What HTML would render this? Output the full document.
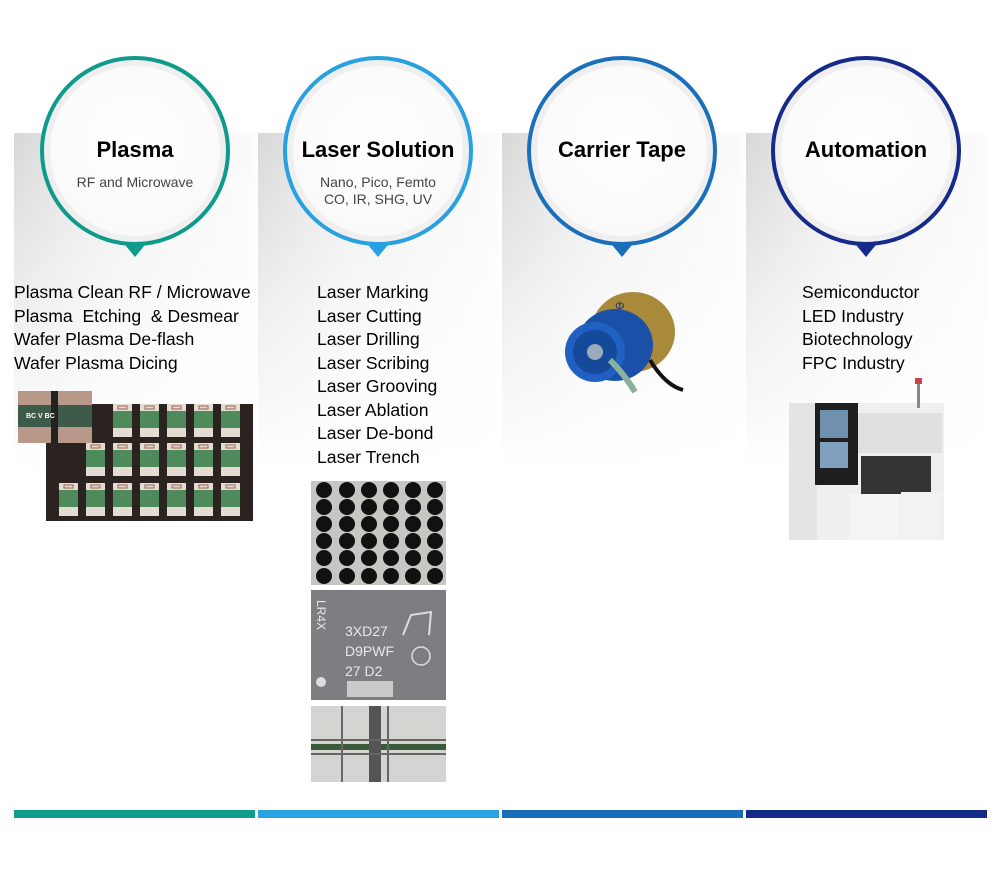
<!DOCTYPE html>
<html><head><meta charset="utf-8"><style>
body{margin:0;background:#fff;width:1000px;height:883px;position:relative;overflow:hidden;font-family:"Liberation Sans",sans-serif;color:#000}
.panel{position:absolute;top:133px;width:241px;height:400px;background:linear-gradient(180deg,rgba(255,255,255,0) 0%,rgba(255,255,255,.6) 45%,#fff 85%),linear-gradient(90deg,#d8d8d8 0%,#ececec 35%,#f6f6f6 70%,#fbfbfb 100%)}
.circ{position:absolute;top:56px;width:182px;height:182px;border-radius:50%;border:4px solid;background:radial-gradient(circle at 50% 45%,#fff 0%,#fafafa 70%,#ececec 100%);box-shadow:inset 0 0 0 6px #efefef}
.tip{position:absolute;top:240px;width:0;height:0;border-left:14px solid transparent;border-right:14px solid transparent;border-top:17px solid}
.title{position:absolute;width:240px;text-align:center;font-weight:bold;font-size:22px;top:137px}
.sub{position:absolute;width:240px;text-align:center;font-size:14px;color:#444;line-height:17px}
.list{position:absolute;font-size:17.6px;line-height:23.5px;white-space:pre}
.bar{position:absolute;top:810px;height:8px;width:241px}
</style></head><body>
<div class="panel" style="left:14px"></div>
<div class="panel" style="left:258px"></div>
<div class="panel" style="left:502px"></div>
<div class="panel" style="left:746px"></div>

<div class="tip" style="left:121px;border-top-color:#0f9b8b"></div>
<div class="tip" style="left:364px;border-top-color:#29a1e0"></div>
<div class="tip" style="left:608px;border-top-color:#1a6fbb"></div>
<div class="tip" style="left:852px;border-top-color:#152a8a"></div>
<div class="circ" style="left:40px;border-color:#0f9b8b"></div>
<div class="circ" style="left:283px;border-color:#29a1e0"></div>
<div class="circ" style="left:527px;border-color:#1a6fbb"></div>
<div class="circ" style="left:771px;border-color:#152a8a"></div>

<div class="title" style="left:15px">Plasma</div>
<div class="sub" style="left:15px;top:174px">RF and Microwave</div>
<div class="title" style="left:258px">Laser Solution</div>
<div class="sub" style="left:258px;top:174px">Nano, Pico, Femto<br>CO, IR, SHG, UV</div>
<div class="title" style="left:502px">Carrier Tape</div>
<div class="title" style="left:746px">Automation</div>

<div class="list" style="left:14px;top:281px">Plasma Clean RF / Microwave
Plasma  Etching  &amp; Desmear
Wafer Plasma De-flash
Wafer Plasma Dicing</div>
<div class="list" style="left:317px;top:281px">Laser Marking
Laser Cutting
Laser Drilling
Laser Scribing
Laser Grooving
Laser Ablation
Laser De-bond
Laser Trench</div>
<div class="list" style="left:802px;top:281px">Semiconductor
LED Industry
Biotechnology
FPC Industry</div>

<!-- plasma image -->
<svg style="position:absolute;left:18px;top:391px" width="235" height="130">
<defs><g id="chip"><rect width="19" height="33" fill="#e4dcd2"/><rect y="7" width="19" height="17" fill="#4e8a5c"/><rect x="5" y="2" width="9" height="3" fill="none" stroke="#a06050" stroke-width="1"/></g></defs>
<rect x="28" y="13" width="207" height="117" fill="#2a2320"/>
<use href="#chip" x="95" y="13"/><use href="#chip" x="122" y="13"/><use href="#chip" x="149" y="13"/><use href="#chip" x="176" y="13"/><use href="#chip" x="203" y="13"/>
<use href="#chip" x="68" y="52"/><use href="#chip" x="95" y="52"/><use href="#chip" x="122" y="52"/><use href="#chip" x="149" y="52"/><use href="#chip" x="176" y="52"/><use href="#chip" x="203" y="52"/>
<use href="#chip" x="41" y="92"/><use href="#chip" x="68" y="92"/><use href="#chip" x="95" y="92"/><use href="#chip" x="122" y="92"/><use href="#chip" x="149" y="92"/><use href="#chip" x="176" y="92"/><use href="#chip" x="203" y="92"/>
<rect x="0" y="0" width="74" height="52" fill="#b89888"/>
<rect x="0" y="14" width="74" height="22" fill="#3e5a48"/>
<rect x="33" y="0" width="7" height="52" fill="#222"/>
<text x="8" y="27" font-size="7" fill="#fff" font-weight="bold">BC  V  BC</text>
</svg>

<!-- laser images -->
<svg style="position:absolute;left:311px;top:481px" width="135" height="104">
<rect width="135" height="104" fill="#c8c6c2"/>
<g fill="#111">
<circle cx="13" cy="9" r="8"/><circle cx="36" cy="9" r="8"/><circle cx="58" cy="9" r="8"/><circle cx="80" cy="9" r="8"/><circle cx="102" cy="9" r="8"/><circle cx="124" cy="9" r="8"/>
<circle cx="13" cy="26" r="8"/><circle cx="36" cy="26" r="8"/><circle cx="58" cy="26" r="8"/><circle cx="80" cy="26" r="8"/><circle cx="102" cy="26" r="8"/><circle cx="124" cy="26" r="8"/>
<circle cx="13" cy="43" r="8"/><circle cx="36" cy="43" r="8"/><circle cx="58" cy="43" r="8"/><circle cx="80" cy="43" r="8"/><circle cx="102" cy="43" r="8"/><circle cx="124" cy="43" r="8"/>
<circle cx="13" cy="60" r="8"/><circle cx="36" cy="60" r="8"/><circle cx="58" cy="60" r="8"/><circle cx="80" cy="60" r="8"/><circle cx="102" cy="60" r="8"/><circle cx="124" cy="60" r="8"/>
<circle cx="13" cy="77" r="8"/><circle cx="36" cy="77" r="8"/><circle cx="58" cy="77" r="8"/><circle cx="80" cy="77" r="8"/><circle cx="102" cy="77" r="8"/><circle cx="124" cy="77" r="8"/>
<circle cx="13" cy="95" r="8"/><circle cx="36" cy="95" r="8"/><circle cx="58" cy="95" r="8"/><circle cx="80" cy="95" r="8"/><circle cx="102" cy="95" r="8"/><circle cx="124" cy="95" r="8"/>
</g></svg>
<svg style="position:absolute;left:311px;top:590px" width="135" height="110">
<rect width="135" height="110" fill="#7d7e82"/>
<g fill="#e8e8e8" font-family="Liberation Sans" font-size="14">
<text x="34" y="46">3XD27</text><text x="34" y="66">D9PWF</text><text x="34" y="86">27 D2</text>
<text x="6" y="10" transform="rotate(90 6 10)" font-size="12">LR4X</text></g>
<rect x="36" y="91" width="46" height="16" fill="#ddd" opacity=".8"/>
<circle cx="10" cy="92" r="5" fill="#ddd"/>
<circle cx="110" cy="66" r="9" fill="none" stroke="#ddd" stroke-width="1.5"/>
<path d="M92 45 L100 25 L120 22 L118 45" fill="none" stroke="#ddd" stroke-width="2"/>
</svg>
<svg style="position:absolute;left:311px;top:706px" width="135" height="76">
<rect width="135" height="76" fill="#d4d4d0"/>
<rect x="0" y="38" width="135" height="6" fill="#3a5a3a"/>
<rect x="58" y="0" width="12" height="76" fill="#555"/>
<rect x="0" y="33" width="135" height="2" fill="#666"/><rect x="0" y="47" width="135" height="2" fill="#666"/>
<rect x="30" y="0" width="2" height="76" fill="#666"/><rect x="76" y="0" width="2" height="76" fill="#666"/>
</svg>

<!-- reel -->
<svg style="position:absolute;left:555px;top:290px" width="135" height="105">
<ellipse cx="78" cy="42" rx="42" ry="40" fill="#a88a3a"/>
<text x="60" y="20" font-size="12" fill="#1a3a8a">Φ</text>
<path d="M95 70 Q110 95 128 100" stroke="#111" stroke-width="4" fill="none"/>
<ellipse cx="60" cy="55" rx="38" ry="36" fill="#1a50a8"/>
<ellipse cx="40" cy="62" rx="30" ry="30" fill="#2060c0"/>
<ellipse cx="40" cy="62" rx="22" ry="22" fill="#154a9a"/>
<circle cx="40" cy="62" r="8" fill="#9ab"/>
<path d="M55 70 Q70 85 80 102" stroke="#8ab0a0" stroke-width="6" fill="none"/>
</svg>

<!-- machine -->
<svg style="position:absolute;left:789px;top:378px" width="158" height="162">
<rect x="0" y="25" width="155" height="137" fill="#efefef"/>
<rect x="0" y="25" width="28" height="137" fill="#e4e4e4"/>
<rect x="28" y="0" width="0" height="0"/>
<rect x="32" y="0" width="0" height="0"/>
<rect x="38" y="25" width="0" height="0"/>
<rect x="34" y="0" width="0" height="0"/>
<rect x="30" y="0" width="0" height="0"/>
<rect x="30" y="0" width="0" height="0"/>
<rect x="33" y="0" width="0" height="0"/>
<rect x="30" y="25" width="0" height="0"/>
<rect x="31" y="0" width="0" height="0"/>
<rect x="32" y="0" width="0" height="0"/>
<rect x="30" y="0" width="0" height="0"/>
<rect x="28" y="0" width="0" height="0"/>
<rect x="26" y="0" width="0" height="0"/>
<rect x="25" y="0" width="0" height="0"/>
<rect x="27" y="0" width="0" height="0"/>
<rect x="28" y="0" width="0" height="0"/>
<rect x="29" y="0" width="0" height="0"/>
<rect x="30" y="0" width="0" height="0"/>
<rect x="31" y="0" width="0" height="0"/>
<rect x="32" y="0" width="0" height="0"/>
<rect x="33" y="0" width="0" height="0"/>
<rect x="34" y="0" width="0" height="0"/>
<rect x="35" y="0" width="0" height="0"/>
<rect x="36" y="0" width="0" height="0"/>
<rect x="37" y="0" width="0" height="0"/>
<rect x="38" y="0" width="0" height="0"/>
<rect x="39" y="0" width="0" height="0"/>
<rect x="40" y="0" width="0" height="0"/>
<rect x="26" y="25" width="43" height="82" fill="#1e1e1e"/>
<rect x="31" y="32" width="28" height="28" fill="#7090b0"/>
<rect x="31" y="64" width="28" height="26" fill="#80a0c0"/>
<rect x="69" y="35" width="84" height="40" fill="#e0e0e0"/>
<rect x="62" y="78" width="0" height="0"/>
<rect x="72" y="78" width="70" height="38" fill="#333"/>
<rect x="60" y="116" width="50" height="46" fill="#f4f4f4"/>
<rect x="112" y="114" width="40" height="48" fill="#f2f2f2"/>
<rect x="128" y="0" width="3" height="30" fill="#888"/>
<rect x="126" y="0" width="7" height="6" fill="#c44"/>
</svg>

<div class="bar" style="left:14px;background:#0f9e8e"></div>
<div class="bar" style="left:258px;background:#29a3e2"></div>
<div class="bar" style="left:502px;background:#1a6dba"></div>
<div class="bar" style="left:746px;background:#142a8a"></div>
</body></html>
